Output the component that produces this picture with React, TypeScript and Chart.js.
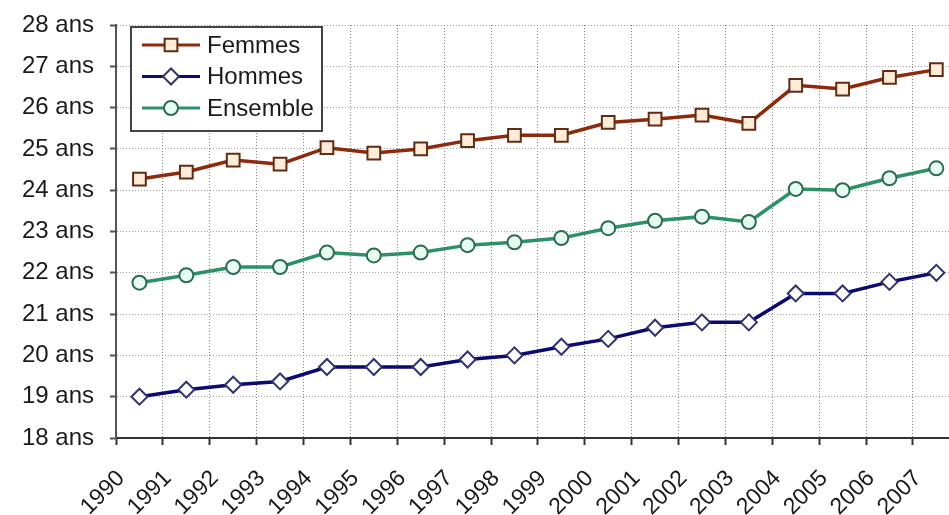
import React, { useEffect, useRef } from 'react';
import { Chart, registerables } from 'chart.js';
import { drawPoint } from 'chart.js/helpers';

Chart.register(...registerables);

const years = ['1990', '1991', '1992', '1993', '1994', '1995', '1996', '1997', '1998', '1999', '2000', '2001', '2002', '2003', '2004', '2005', '2006', '2007'];
const seriesNames = ['Femmes', 'Hommes', 'Ensemble'];
const femmes = [24.27, 24.44, 24.73, 24.63, 25.03, 24.9, 25.0, 25.2, 25.33, 25.33, 25.64, 25.72, 25.82, 25.62, 26.54, 26.45, 26.73, 26.92];
const hommes = [19.0, 19.17, 19.29, 19.37, 19.72, 19.72, 19.72, 19.9, 20.0, 20.21, 20.4, 20.67, 20.8, 20.8, 21.5, 21.5, 21.78, 22.0];
const ensemble = [21.76, 21.94, 22.14, 22.14, 22.49, 22.42, 22.49, 22.67, 22.74, 22.84, 23.08, 23.26, 23.36, 23.23, 24.03, 24.0, 24.29, 24.53];
const yMin = 18;
const yMax = 28;
const yUnit = ' ans';

const FONT = 'Arial, "Liberation Sans", Helvetica, sans-serif';

const toPoints = (vals: number[]) => vals.map((v, i) => ({ x: i + 0.5, y: v }));

const legendPlugin = {
  id: 'boxLegend',
  afterDraw(chart: any) {
    const { ctx, chartArea } = chart;
    const bx = chartArea.left + 15;
    const by = chartArea.top + 2;
    const bw = 191;
    const bh = 104;
    ctx.save();
    ctx.fillStyle = '#ffffff';
    ctx.fillRect(bx, by, bw, bh);
    ctx.lineWidth = 2;
    ctx.strokeStyle = '#444444';
    ctx.strokeRect(bx, by, bw, bh);
    chart.data.datasets.forEach((ds: any, i: number) => {
      const ry = by + 18 + i * 31.5;
      ctx.beginPath();
      ctx.lineWidth = 3;
      ctx.strokeStyle = ds.borderColor;
      ctx.moveTo(bx + 11, ry);
      ctx.lineTo(bx + 69, ry);
      ctx.stroke();
      ctx.fillStyle = ds.pointBackgroundColor;
      ctx.strokeStyle = ds.pointBorderColor;
      ctx.lineWidth = ds.pointBorderWidth;
      drawPoint(ctx, { pointStyle: ds.pointStyle, radius: ds.pointRadius, borderWidth: ds.pointBorderWidth, rotation: 0 } as any, bx + 40, ry);
      ctx.fillStyle = '#1a1a1a';
      ctx.font = `24px ${FONT}`;
      ctx.textAlign = 'left';
      ctx.textBaseline = 'middle';
      ctx.fillText(ds.label, bx + 76, ry + 1);
    });
    ctx.restore();
  },
};

export default function App() {
  const ref = useRef<HTMLCanvasElement | null>(null);
  useEffect(() => {
    if (!ref.current) return;
    const chart = new Chart(ref.current, {
      type: 'line',
      data: {
        datasets: [
          {
            label: seriesNames[0],
            data: toPoints(femmes),
            borderColor: '#8e2a0c',
            borderWidth: 3.5,
            pointStyle: 'rect',
            pointRadius: 9,
            pointBackgroundColor: '#ffecd8',
            pointBorderColor: '#5e2d14',
            pointBorderWidth: 2,
          },
          {
            label: seriesNames[1],
            data: toPoints(hommes),
            borderColor: '#0a0a70',
            borderWidth: 3.5,
            pointStyle: 'rectRot',
            pointRadius: 8,
            pointBackgroundColor: '#ffffff',
            pointBorderColor: '#33336e',
            pointBorderWidth: 2,
          },
          {
            label: seriesNames[2],
            data: toPoints(ensemble),
            borderColor: '#2c9168',
            borderWidth: 3.5,
            pointStyle: 'circle',
            pointRadius: 7,
            pointBackgroundColor: '#e6fbf1',
            pointBorderColor: '#2e6b52',
            pointBorderWidth: 2,
          },
        ] as any,
      },
      options: {
        animation: false,
        responsive: false,
        layout: { autoPadding: false, padding: { top: 25, left: 0, right: 0, bottom: 0 } },
        plugins: { legend: { display: false }, tooltip: { enabled: false } },
        scales: {
          x: {
            type: 'linear',
            min: 0,
            max: 17.77,
            afterBuildTicks: (scale: any) => {
              scale.ticks = years.map((_, i) => ({ value: i }));
            },
            afterFit: (scale: any) => {
              scale.height = 77;
              scale.paddingLeft = 0;
              scale.paddingRight = 0;
            },
            ticks: {
              autoSkip: false,
              minRotation: 45,
              maxRotation: 45,
              padding: 20,
              labelOffset: 5,
              color: '#1a1a1a',
              font: { family: FONT, size: 23 },
              callback: (v: any) => years[Math.round(v)] ?? '',
            },
            grid: {
              color: 'rgba(90,90,90,0.75)',
              lineWidth: 1,
              drawTicks: true,
              tickLength: 7,
              tickColor: '#333333',
              tickWidth: 2,
              tickBorderDash: [],
            } as any,
            border: { display: true, color: '#333333', width: 2, dash: [1, 2] } as any,
          },
          y: {
            type: 'linear',
            min: yMin,
            max: yMax,
            afterFit: (scale: any) => {
              scale.width = 116;
              scale.paddingTop = 0;
              scale.paddingBottom = 0;
            },
            ticks: {
              stepSize: 1,
              padding: 16,
              color: '#1a1a1a',
              font: { family: FONT, size: 24 },
              callback: (v: any) => `${v}${yUnit}`,
            },
            grid: {
              color: 'rgba(140,140,140,0.8)',
              lineWidth: 1,
              drawTicks: true,
              tickLength: 6,
              tickColor: '#555555',
              tickWidth: 2,
              tickBorderDash: [],
            } as any,
            border: { display: true, color: '#555555', width: 2, dash: [1, 2] } as any,
          },
        },
      } as any,
      plugins: [legendPlugin],
    });
    return () => chart.destroy();
  }, []);
  return (
    <div style={{ position: 'absolute', left: 0, top: 0, width: 949, height: 515, background: '#fff' }}>
      <canvas ref={ref} width={949} height={515} style={{ display: 'block' }} />
    </div>
  );
}
